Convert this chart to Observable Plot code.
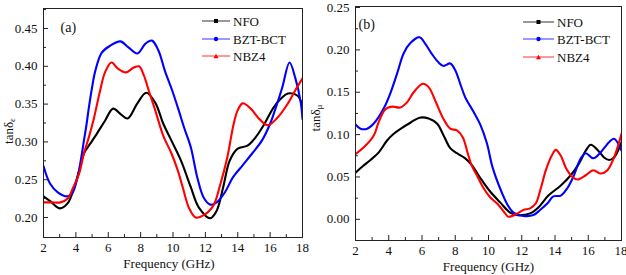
<!DOCTYPE html>
<html><head><meta charset="utf-8">
<script src="https://cdn.jsdelivr.net/npm/d3@7"></script>
<script src="https://cdn.jsdelivr.net/npm/@observablehq/plot@0.6"></script>
<style>
html,body{margin:0;padding:0;background:#fff;}
#wrap{position:relative;width:626px;height:275px;overflow:hidden;font-family:'Liberation Serif','DejaVu Serif',serif;color:#111;}
.panel{position:absolute;top:0;}
.ylab{position:absolute;transform:translate(-50%,-50%) rotate(-90deg);font-size:13px;white-space:nowrap;line-height:1;}
.ylab sub{font-size:9px;vertical-align:-2px;}
.leg{position:absolute;display:flex;align-items:center;font-size:13px;line-height:1;white-space:nowrap;}
.leg svg{display:block;margin-right:3px;}
</style></head>
<body><div id="wrap"></div>
<script>
// ---------- data ----------
const seriesNames = ["NFO", "BZT-BCT", "NBZ4"];
const seriesColors = ["#000000", "#0000ff", "#ff0000"];
const xTicks = [2, 4, 6, 8, 10, 12, 14, 16, 18];
const xMinor = [3, 5, 7, 9, 11, 13, 15, 17];
const yTicksA = [0.20, 0.25, 0.30, 0.35, 0.40, 0.45];
const yMinorA = [0.225, 0.275, 0.325, 0.375, 0.425, 0.475];
const yTicksB = [0.00, 0.05, 0.10, 0.15, 0.20, 0.25];
const yMinorB = [0.025, 0.075, 0.125, 0.175, 0.225];

// panel (a): tan delta epsilon
const nfoA_f = [2, 2.45, 3, 3.5, 3.9, 4.2, 4.5, 4.9, 5.3, 5.8, 6.3, 6.8, 7.2, 7.8, 8.35, 8.9, 9.4, 9.85, 10.5, 11.1, 11.6, 12.3, 12.7, 13.1, 13.5, 14, 14.6, 15.1, 15.6, 16.2, 16.7, 17.1, 17.7, 18];
const nfoA_v = [0.228, 0.221, 0.212, 0.219, 0.24, 0.262, 0.285, 0.298, 0.311, 0.328, 0.344, 0.336, 0.331, 0.351, 0.365, 0.352, 0.324, 0.304, 0.275, 0.24, 0.213, 0.199, 0.209, 0.24, 0.275, 0.291, 0.295, 0.306, 0.322, 0.345, 0.358, 0.364, 0.361, 0.348];
const bztA_f = [2, 2.4, 2.9, 3.5, 3.8, 4.1, 4.3, 4.5, 4.65, 4.8, 5.0, 5.2, 5.6, 6.1, 6.75, 7.25, 7.8, 8.3, 8.7, 9.1, 9.5, 9.95, 10.35, 10.7, 11.1, 11.5, 11.9, 12.3, 12.7, 13.2, 13.7, 14.3, 14.9, 15.5, 16.0, 16.3, 16.75, 17.2, 17.55, 17.9, 18];
const bztA_v = [0.268, 0.245, 0.233, 0.228, 0.233, 0.253, 0.275, 0.302, 0.322, 0.345, 0.372, 0.394, 0.418, 0.427, 0.433, 0.425, 0.417, 0.43, 0.434, 0.421, 0.394, 0.368, 0.342, 0.318, 0.293, 0.253, 0.226, 0.217, 0.22, 0.233, 0.253, 0.269, 0.285, 0.302, 0.324, 0.342, 0.372, 0.405, 0.385, 0.351, 0.33];
const nbzA_f = [2, 2.5, 3.05, 3.5, 3.8, 4.2, 4.5, 4.8, 5.1, 5.5, 5.8, 6.2, 6.6, 7.1, 7.55, 7.9, 8.2, 8.5, 8.9, 9.4, 9.9, 10.3, 10.6, 11.0, 11.4, 11.9, 12.5, 12.9, 13.35, 13.75, 14.0, 14.3, 14.8, 15.3, 15.85, 16.45, 17.1, 17.55, 18];
const nbzA_v = [0.22, 0.22, 0.22, 0.225, 0.238, 0.258, 0.285, 0.306, 0.33, 0.368, 0.392, 0.405, 0.397, 0.392, 0.398, 0.40, 0.388, 0.368, 0.342, 0.308, 0.285, 0.262, 0.24, 0.212, 0.20, 0.203, 0.216, 0.242, 0.279, 0.324, 0.342, 0.351, 0.344, 0.331, 0.322, 0.332, 0.351, 0.368, 0.384];

// panel (b): tan delta mu
const nfoB_f = [2, 2.4, 2.9, 3.4, 3.9, 4.3, 4.8, 5.3, 5.85, 6.4, 6.9, 7.3, 7.7, 8.1, 8.6, 9.0, 9.5, 10.05, 10.7, 11.3, 11.75, 12.5, 13.0, 13.6, 14.35, 14.95, 15.45, 15.85, 16.15, 16.6, 16.95, 17.25, 17.55, 18];
const nfoB_v = [0.055, 0.062, 0.07, 0.079, 0.093, 0.101, 0.108, 0.114, 0.12, 0.119, 0.113, 0.099, 0.084, 0.078, 0.072, 0.064, 0.049, 0.034, 0.02, 0.008, 0.005, 0.007, 0.014, 0.028, 0.04, 0.052, 0.066, 0.081, 0.088, 0.081, 0.073, 0.07, 0.073, 0.091];
const bztB_f = [2, 2.3, 2.7, 3.1, 3.7, 4.1, 4.5, 4.9, 5.3, 5.85, 6.2, 6.6, 7.0, 7.3, 7.7, 8.0, 8.3, 8.6, 9.1, 9.5, 9.9, 10.25, 10.75, 11.15, 11.5, 12.1, 12.7, 13.1, 13.55, 13.9, 14.35, 14.75, 15.1, 15.55, 15.85, 16.3, 16.7, 17.25, 17.55, 18];
const bztB_v = [0.112, 0.107, 0.107, 0.113, 0.131, 0.149, 0.172, 0.196, 0.208, 0.215, 0.207, 0.195, 0.185, 0.181, 0.184, 0.176, 0.16, 0.144, 0.127, 0.112, 0.09, 0.061, 0.034, 0.017, 0.008, 0.004, 0.005, 0.011, 0.019, 0.027, 0.028, 0.037, 0.05, 0.072, 0.078, 0.072, 0.078, 0.091, 0.095, 0.081];
const nbzB_f = [2, 2.5, 3.1, 3.4, 3.8, 4.2, 4.7, 5.1, 5.5, 6.05, 6.4, 6.8, 7.25, 7.7, 8.1, 8.45, 8.75, 9.0, 9.35, 9.7, 10.1, 10.6, 11.0, 11.2, 11.75, 12.1, 12.5, 12.85, 13.15, 13.45, 13.8, 14.05, 14.35, 14.65, 15.05, 15.35, 15.85, 16.3, 16.75, 17.15, 17.55, 18];
const nbzB_v = [0.077, 0.085, 0.099, 0.115, 0.13, 0.133, 0.132, 0.138, 0.15, 0.16, 0.156, 0.14, 0.12, 0.107, 0.105, 0.097, 0.078, 0.063, 0.05, 0.037, 0.026, 0.017, 0.007, 0.003, 0.007, 0.011, 0.013, 0.019, 0.037, 0.058, 0.075, 0.082, 0.075, 0.061, 0.05, 0.047, 0.052, 0.058, 0.054, 0.058, 0.073, 0.101];

// ---------- build ----------
const rows = (f, v) => f.map((x, i) => ({f: x, v: v[i]}));
const FONT = "'Liberation Serif', 'DejaVu Serif', serif";

function panel({w, h, ml, mr, mt, mb, yDomain, yTicks, yMinor, series, tag, tagDx, tagDy, xlabDx}) {
  const W = w - ml - mr, H = h - mt - mb;
  return Plot.plot({
    width: w, height: h,
    marginLeft: ml, marginRight: mr, marginTop: mt, marginBottom: mb,
    x: {domain: [2, 18]},
    y: {domain: yDomain},
    style: {fontFamily: FONT, fontSize: "13px", color: "#111", background: "transparent", overflow: "visible"},
    marks: [
      ...series.map(s => Plot.line(s.data, {x: "f", y: "v", stroke: s.color, strokeWidth: 2.1, curve: "catmull-rom", clip: true})),
      Plot.frame({stroke: "#222", strokeWidth: 1}),
      Plot.tickX(xTicks, {x: d => d, stroke: "#222", insetTop: H - 5}),
      Plot.tickX(xMinor, {x: d => d, stroke: "#222", insetTop: H - 3}),
      Plot.tickY(yTicks, {y: d => d, stroke: "#222", insetRight: W - 5}),
      Plot.tickY(yMinor, {y: d => d, stroke: "#222", insetRight: W - 3}),
      Plot.axisX({ticks: xTicks, tickSize: 0, tickPadding: 5, tickFormat: d => String(d), label: null, fontSize: 13, fontFamily: FONT}),
      Plot.axisY({ticks: yTicks, tickSize: 0, tickPadding: 6, tickFormat: d => d.toFixed(2), label: null, fontSize: 13, fontFamily: FONT}),
      Plot.text(["Frequency (GHz)"], {frameAnchor: "bottom", dy: 26, dx: xlabDx, text: d => d, fontSize: 13, fontFamily: FONT, lineAnchor: "middle"}),
      Plot.text([tag], {frameAnchor: "top-left", textAnchor: "start", lineAnchor: "middle", dx: tagDx, dy: tagDy, text: d => d, fontSize: 14, fontFamily: FONT})
    ]
  });
}

const wrap = document.getElementById("wrap");

const A = panel({
  w: 320, h: 275, ml: 43, mr: 18, mt: 8, mb: 38,
  yDomain: [0.1735, 0.4765], yTicks: yTicksA, yMinor: yMinorA,
  series: [
    {data: rows(nfoA_f, nfoA_v), color: seriesColors[0]},
    {data: rows(bztA_f, bztA_v), color: seriesColors[1]},
    {data: rows(nbzA_f, nbzA_v), color: seriesColors[2]}
  ],
  tag: "(a)", tagDx: 17, tagDy: 19, xlabDx: -4
});
const B = panel({
  w: 316, h: 275, ml: 45, mr: 5, mt: 6, mb: 35,
  yDomain: [-0.025, 0.2512], yTicks: yTicksB, yMinor: yMinorB,
  series: [
    {data: rows(nfoB_f, nfoB_v), color: seriesColors[0]},
    {data: rows(bztB_f, bztB_v), color: seriesColors[1]},
    {data: rows(nbzB_f, nbzB_v), color: seriesColors[2]}
  ],
  tag: "(b)", tagDx: 3, tagDy: 18, xlabDx: 0
});

function place(node, left) {
  const d = document.createElement("div");
  d.className = "panel";
  d.style.left = left + "px";
  d.appendChild(node);
  wrap.appendChild(d);
}
place(A, 0);
place(B, 310);

// keep the last x tick label of panel (b) inside the window
B.querySelectorAll("[aria-label='x-axis tick label'] text").forEach(t => {
  if (t.textContent === "18") t.setAttribute("text-anchor", "end"), t.setAttribute("dx", "6");
});

// y-axis titles
function ylab(x, y, sub) {
  const d = document.createElement("div");
  d.className = "ylab";
  d.style.left = x + "px";
  d.style.top = y + "px";
  d.innerHTML = "tan\u03b4<sub>" + sub + "</sub>";
  wrap.appendChild(d);
}
ylab(9, 131, "\u03b5");
ylab(316, 118, "\u03bc");

// legends
const markerShapes = ["square", "circle", "triangle"];
function legend(x0, ys, lineW) {
  seriesNames.forEach((name, i) => {
    const d = document.createElement("div");
    d.className = "leg";
    d.style.left = x0 + "px";
    d.style.top = (ys[i] - 8) + "px";
    d.style.height = "16px";
    const c = seriesColors[i];
    const m = lineW / 2;
    let mk;
    if (markerShapes[i] === "square") mk = `<rect x="${m-2}" y="2" width="4" height="4" fill="${c}"/>`;
    else if (markerShapes[i] === "circle") mk = `<circle cx="${m}" cy="4" r="2.2" fill="${c}"/>`;
    else mk = `<path d="M${m-2.5},6.2L${m+2.5},6.2L${m},1.8Z" fill="${c}"/>`;
    d.innerHTML = `<svg width="${lineW}" height="8"><line x1="0" x2="${lineW}" y1="4" y2="4" stroke="${c}" stroke-width="1" opacity="0.8"/>${mk}</svg><span>${name}</span>`;
    wrap.appendChild(d);
  });
}
legend(202, [21, 39, 56], 28);
legend(523, [22, 39, 57], 31);
</script>
</body></html>
